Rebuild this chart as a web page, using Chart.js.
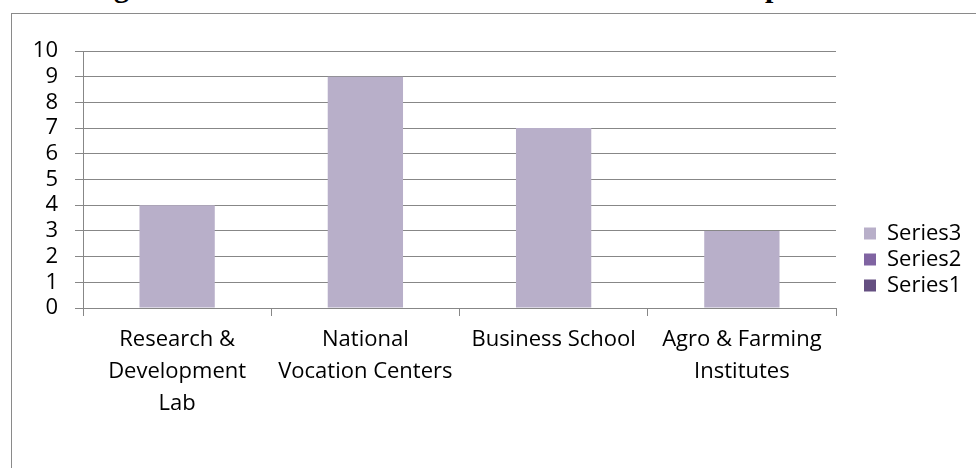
<!DOCTYPE html>
<html>
<head>
<meta charset="utf-8">
<script src="https://cdn.jsdelivr.net/npm/chart.js@4"></script>
<style>
  html, body { margin: 0; padding: 0; background: #ffffff; }
  body { width: 976px; height: 468px; position: relative; overflow: hidden; }
  #title { position: absolute; left: 0; width: 934px; top: -30px; height: 30px; line-height: 30px; text-align: center;
           font: bold 30px "Liberation Serif", "DejaVu Serif", serif; color: #000; white-space: nowrap; }
  #frame { position: absolute; left: 11px; top: 13px; width: 990px; height: 500px;
           border: 1px solid #8a8a8a; box-sizing: border-box; }
  #wrap { position: absolute; left: 0; top: 0; width: 976px; height: 468px; }
</style>
</head>
<body>
<div id="title">Figure 5: Vocational and Technical Education Development</div>
<div id="frame"></div>
<div id="wrap"><canvas id="c" width="976" height="468"></canvas></div>
<script>
const categories = [["Research &", "Development", "Lab"], ["National", "Vocation Centers"], "Business School", ["Agro & Farming", "Institutes"]];
const series1 = [0, 0, 0, 0];
const series2 = [0, 0, 0, 0];
const series3 = [4, 9, 7, 3];
const yTicks = [0, 1, 2, 3, 4, 5, 6, 7, 8, 9, 10];

const FONT = { family: "'Open Sans', Lato, sans-serif", size: 22 };
const GRID = '#878787';

const legendPlacer = {
  id: 'legendPlacer',
  beforeLayout(chart) {
    const lg = chart.legend;
    if (lg && !lg._patched) {
      const orig = lg.fit.bind(lg);
      lg.fit = function () { orig(); this.width = 140; };
      lg._patched = true;
    }
  },
  afterLayout(chart) {
    const lg = chart.legend;
    if (lg) { lg.left = 860; lg.right = 976; }
  }
};

new Chart(document.getElementById('c'), {
  type: 'bar',
  data: {
    labels: categories,
    datasets: [
      { label: 'Series1', data: series1, backgroundColor: '#654f81' },
      { label: 'Series2', data: series2, backgroundColor: '#8064a2' },
      { label: 'Series3', data: series3, backgroundColor: '#b8afc9' }
    ]
  },
  plugins: [legendPlacer],
  options: {
    responsive: false,
    animation: false,
    devicePixelRatio: 1,
    layout: { padding: { left: 0, top: 51, right: 0, bottom: 0 } },
    datasets: { bar: { categoryPercentage: 0.4, barPercentage: 1.0 } },
    plugins: {
      title: { display: false },
      tooltip: { enabled: false },
      legend: {
        position: 'right',
        reverse: true,
        labels: { font: FONT, color: '#000', boxWidth: 12, boxHeight: 12, padding: 4 }
      }
    },
    scales: {
      x: {
        stacked: true,
        grid: { offset: true, drawOnChartArea: false, drawTicks: true, tickLength: 8, color: GRID },
        border: { color: GRID },
        ticks: { font: { ...FONT, lineHeight: 1.45 }, color: '#000', padding: 8, maxRotation: 0, autoSkip: false },
        afterFit: (s) => { s.height = 160; }
      },
      y: {
        stacked: true,
        min: 0, max: 10,
        afterBuildTicks: (s) => { s.ticks = yTicks.map(v => ({ value: v })); },
        grid: { color: GRID, tickLength: 8, drawTicks: true },
        border: { color: GRID },
        ticks: { font: FONT, color: '#000', padding: 17, stepSize: 1, autoSkip: false },
        afterFit: (s) => { s.width = 83; }
      }
    }
  }
});
</script>
</body>
</html>
